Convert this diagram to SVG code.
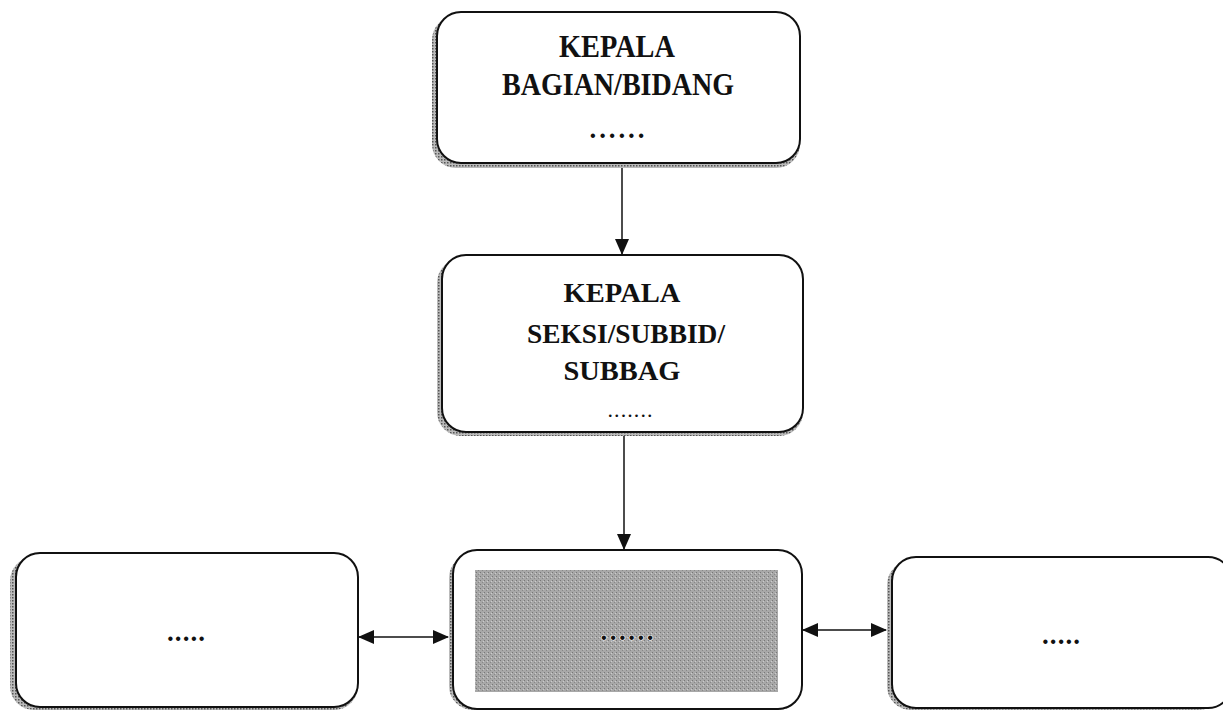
<svg xmlns="http://www.w3.org/2000/svg" width="1223" height="711" viewBox="0 0 1223 711">
<style>
.box{fill:#fff;stroke:#111;stroke-width:2}
.shadow{fill:url(#stip);stroke:none}
.t{font-family:"Liberation Serif","Times New Roman",serif;font-weight:bold;font-size:28px;fill:#111;text-anchor:middle}
.d{font-family:"Liberation Serif","Times New Roman",serif;font-weight:bold;font-size:27px;fill:#111;text-anchor:middle}
.c{stroke:#111;stroke-width:1.5;fill:none}
</style>
<defs>
<pattern id="stip" width="3" height="3" patternUnits="userSpaceOnUse">
<rect width="3" height="3" fill="#bbb"/>
<rect width="1.5" height="1.5" fill="#555"/>
</pattern>
<pattern id="grey" width="4" height="4" patternUnits="userSpaceOnUse">
<rect width="4" height="4" fill="#a8a8a8"/>
<rect width="1" height="1" fill="#777"/>
<rect x="2" y="2" width="1" height="1" fill="#888"/>
<rect x="3" y="1" width="1" height="1" fill="#ccc"/>
</pattern>
<marker id="ah2" markerWidth="16" markerHeight="14" refX="15" refY="7" orient="auto-start-reverse" markerUnits="userSpaceOnUse" viewBox="0 0 16 14">
<path d="M0,0 L16,7 L0,14 z" fill="#111"/>
</marker>
</defs>
<rect width="1223" height="711" fill="#fff"/>

<g id="connectors">
<line class="c" x1="622" y1="168" x2="622" y2="254" marker-end="url(#ah2)"/>
<line class="c" x1="624" y1="436" x2="624" y2="549" marker-end="url(#ah2)"/>
<line class="c" x1="359" y1="637" x2="448" y2="637" marker-start="url(#ah2)" marker-end="url(#ah2)"/>
<line class="c" x1="803" y1="630" x2="886" y2="630" marker-start="url(#ah2)" marker-end="url(#ah2)"/>
</g>

<g id="node-kepala-bagian">
<rect class="shadow" x="432" y="16" width="368" height="152" rx="24"/>
<rect class="box" x="437" y="12" width="363" height="151" rx="24"/>
<text class="t" transform="translate(617,57) scale(1,1.12)" x="0" y="0" textLength="116" lengthAdjust="spacingAndGlyphs">KEPALA</text>
<text class="t" transform="translate(618,95) scale(1,1.12)" x="0" y="0" textLength="232" lengthAdjust="spacingAndGlyphs">BAGIAN/BIDANG</text>
<text class="d" x="617" y="138" textLength="55" lengthAdjust="spacing">......</text>
</g>

<g id="node-kepala-seksi">
<rect class="shadow" x="437" y="259" width="366" height="177" rx="24"/>
<rect class="box" x="442" y="255" width="361" height="177" rx="24"/>
<text class="t" x="622" y="302" textLength="117" lengthAdjust="spacingAndGlyphs">KEPALA</text>
<text class="t" x="626" y="343" textLength="198" lengthAdjust="spacingAndGlyphs">SEKSI/SUBBID/</text>
<text class="t" x="622" y="380" textLength="117" lengthAdjust="spacingAndGlyphs">SUBBAG</text>
<text class="d" x="630" y="417" textLength="45" lengthAdjust="spacing" style="font-weight:normal;font-size:22px">.......</text>
</g>

<g id="node-left">
<rect class="shadow" x="10" y="557" width="348" height="153" rx="24"/>
<rect class="box" x="16" y="553" width="342" height="154" rx="24"/>
<text class="d" x="186" y="641" textLength="38" lengthAdjust="spacing">.....</text>
</g>

<g id="node-center">
<rect class="shadow" x="449" y="554" width="353" height="156" rx="24"/>
<rect class="box" x="453" y="550" width="349" height="159" rx="24"/>
<rect x="475" y="570" width="303" height="122" fill="url(#grey)"/>
<text class="d" x="627" y="640" textLength="53" lengthAdjust="spacing" style="stroke:#fff;stroke-width:1.2;paint-order:stroke">......</text>
</g>

<g id="node-right">
<rect class="shadow" x="887" y="561" width="336" height="149" rx="24"/>
<rect class="box" x="892" y="557" width="340" height="151" rx="24"/>
<text class="d" x="1061" y="644" textLength="38" lengthAdjust="spacing">.....</text>
</g>
</svg>
